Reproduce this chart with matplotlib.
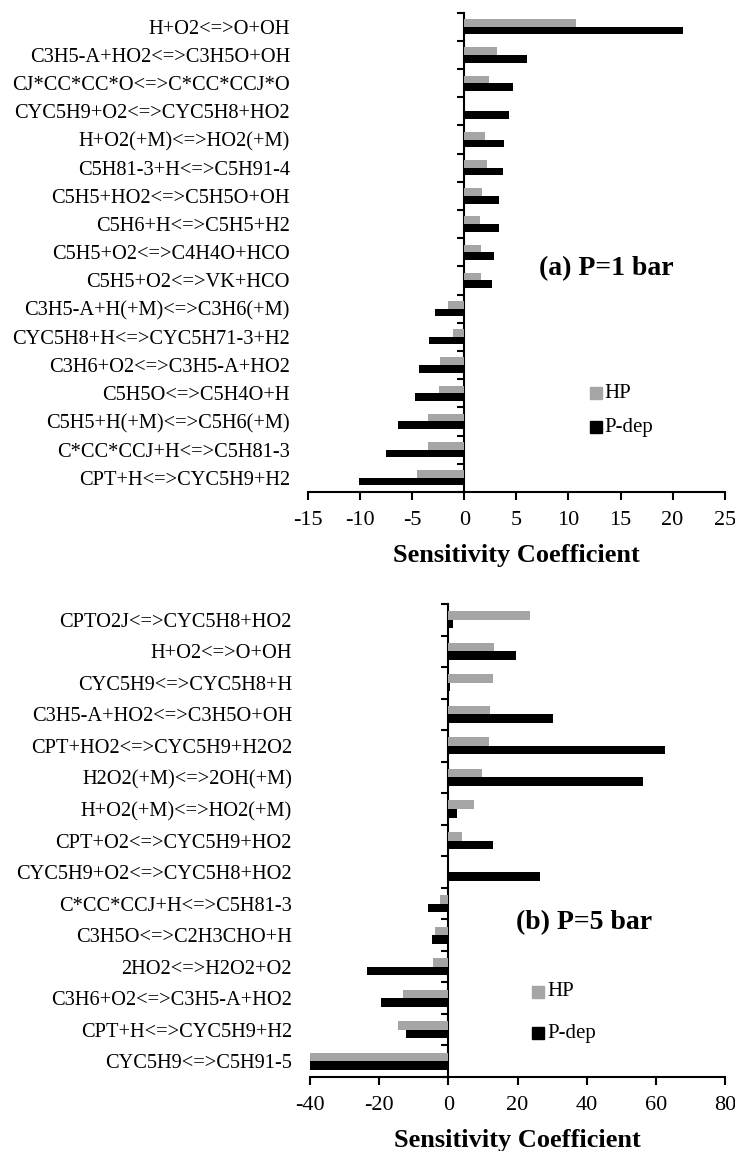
import numpy as np
import matplotlib
matplotlib.use("Agg")
import matplotlib.pyplot as plt

plt.rcParams["font.family"] = ["Liberation Serif", "DejaVu Serif"]

# ---- panel (a): P = 1 bar ----
rxn_a = [
    "H+O2<=>O+OH",
    "C3H5-A+HO2<=>C3H5O+OH",
    "CJ*CC*CC*O<=>C*CC*CCJ*O",
    "CYC5H9+O2<=>CYC5H8+HO2",
    "H+O2(+M)<=>HO2(+M)",
    "C5H81-3+H<=>C5H91-4",
    "C5H5+HO2<=>C5H5O+OH",
    "C5H6+H<=>C5H5+H2",
    "C5H5+O2<=>C4H4O+HCO",
    "C5H5+O2<=>VK+HCO",
    "C3H5-A+H(+M)<=>C3H6(+M)",
    "CYC5H8+H<=>CYC5H71-3+H2",
    "C3H6+O2<=>C3H5-A+HO2",
    "C5H5O<=>C5H4O+H",
    "C5H5+H(+M)<=>C5H6(+M)",
    "C*CC*CCJ+H<=>C5H81-3",
    "CPT+H<=>CYC5H9+H2",
]
hp_a = [10.7, 3.1, 2.4, 0.0, 2.0, 2.2, 1.7, 1.5, 1.6, 1.6,
        -1.6, -1.1, -2.3, -2.4, -3.5, -3.5, -4.5]
pdep_a = [21.0, 6.0, 4.7, 4.3, 3.8, 3.7, 3.3, 3.3, 2.9, 2.7,
          -2.8, -3.4, -4.3, -4.7, -6.4, -7.5, -10.1]
xticks_a = [-15, -10, -5, 0, 5, 10, 15, 20, 25]

# ---- panel (b): P = 5 bar ----
rxn_b = [
    "CPTO2J<=>CYC5H8+HO2",
    "H+O2<=>O+OH",
    "CYC5H9<=>CYC5H8+H",
    "C3H5-A+HO2<=>C3H5O+OH",
    "CPT+HO2<=>CYC5H9+H2O2",
    "H2O2(+M)<=>2OH(+M)",
    "H+O2(+M)<=>HO2(+M)",
    "CPT+O2<=>CYC5H9+HO2",
    "CYC5H9+O2<=>CYC5H8+HO2",
    "C*CC*CCJ+H<=>C5H81-3",
    "C3H5O<=>C2H3CHO+H",
    "2HO2<=>H2O2+O2",
    "C3H6+O2<=>C3H5-A+HO2",
    "CPT+H<=>CYC5H9+H2",
    "CYC5H9<=>C5H91-5",
]
hp_b = [23.6, 13.1, 12.8, 12.0, 11.8, 9.6, 7.3, 3.9, 0.0,
        -2.3, -3.9, -4.5, -13.2, -14.7, -40.0]
pdep_b = [1.4, 19.7, 0.4, 30.4, 62.7, 56.4, 2.4, 13.0, 26.4,
          -5.8, -4.7, -23.4, -19.6, -12.3, -40.0]
xticks_b = [-40, -20, 0, 20, 40, 60, 80]

GREY = "#a5a5a5"
FS = 14.7

fig = plt.figure(figsize=(7.35, 11.51), dpi=100)


def panel(rect, rxns, hp, pdep, xticks, title, title_xy, leg_xy, leg_dy):
    ax = fig.add_axes(rect)
    n = len(rxns)
    y = np.arange(n)
    h = 0.27
    ax.barh(y - h / 2, hp, height=h, color=GREY, label="HP")
    ax.barh(y + h / 2, pdep, height=h, color="black", label="P-dep")
    ax.set_ylim(n - 0.5, -0.5)
    ax.set_xlim(xticks[0], xticks[-1])
    ax.set_xticks(xticks)
    ax.set_xticklabels([str(t) for t in xticks], fontsize=16)
    ax.set_yticks(y)
    ax.set_yticklabels(rxns, fontsize=FS)
    ax.tick_params(axis="y", length=0, pad=13)
    ax.tick_params(axis="x", direction="out", length=6, width=1.5, pad=8)
    for s in ("top", "right", "left"):
        ax.spines[s].set_visible(False)
    ax.spines["bottom"].set_linewidth(1.5)

    # vertical axis line through zero with ticks at category boundaries
    zero = (0 - xticks[0]) / (xticks[-1] - xticks[0])
    sec = ax.secondary_yaxis(zero)
    sec.set_yticks(np.arange(n + 1) - 0.5)
    sec.set_yticklabels([])
    sec.tick_params(direction="out", length=5, width=1.5)
    sec.spines["left"].set_linewidth(1.5)

    ax.set_xlabel("Sensitivity Coefficient", fontsize=19,
                  fontweight="bold", labelpad=10)
    ax.text(title_xy[0], title_xy[1], title, transform=ax.transAxes,
            fontsize=20, fontweight="bold", va="center", ha="left")

    # legend drawn as two marker/text pairs
    for k, (lab, col) in enumerate((("HP", GREY), ("P-dep", "black"))):
        yy = leg_xy[1] - k * leg_dy
        ax.plot([leg_xy[0]], [yy], marker="s", ms=8, color=col,
                transform=ax.transAxes, clip_on=False)
        ax.text(leg_xy[0] + 0.022, yy, lab, transform=ax.transAxes,
                fontsize=15, va="center", ha="left")
    return ax


panel([0.419, 0.5726, 0.567, 0.4164], rxn_a, hp_a, pdep_a, xticks_a,
      "(a) P=1 bar", (0.554, 0.467), (0.69, 0.206), 0.071)
panel([0.4218, 0.0643, 0.5646, 0.4109], rxn_b, hp_b, pdep_b, xticks_b,
      "(b) P=5 bar", (0.496, 0.326), (0.549, 0.18), 0.087)

fig.savefig("out.png", dpi=100, facecolor="white")
